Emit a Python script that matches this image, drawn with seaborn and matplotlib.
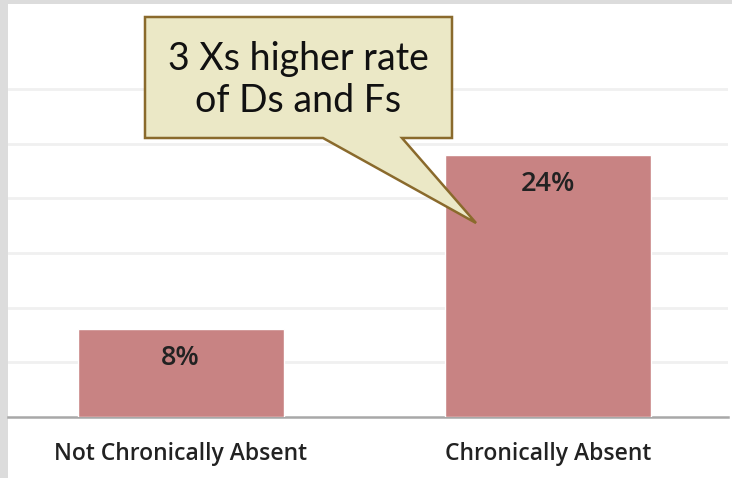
import matplotlib
matplotlib.use("Agg")
import matplotlib.pyplot as plt
from matplotlib.patches import Polygon, Rectangle
import seaborn as sns

# chart data
categories = ["Not Chronically Absent", "Chronically Absent"]
values = [8, 24]
value_labels = ["8%", "24%"]
callout_text = "3 Xs higher rate\nof Ds and Fs"

bar_color = "#c88383"
W, H = 732, 478

sns.set_style("white")
plt.rcParams["font.family"] = ["Open Sans", "DejaVu Sans"]

fig = plt.figure(figsize=(W / 100, H / 100), dpi=100, facecolor="#dcdcdc")
# white page area next to the grey border strips
fig.patches.append(Rectangle((8 / W, 0), 1, (H - 4) / H, transform=fig.transFigure,
                             facecolor="white", edgecolor="none", zorder=-5))

ax = fig.add_axes([8 / W, (H - 416.7) / H, (728 - 8) / W, (416.7 - 4) / H])
ax.set_facecolor("none")

sns.barplot(x=categories, y=values, color=bar_color, saturation=1, width=0.56, ax=ax, zorder=3)

ax.set_xlim(-0.47, 1.49)
ax.set_ylim(0, 37.8)
ax.set_yticks(range(5, 31, 5))
ax.set_axisbelow(True)
ax.yaxis.grid(True, color="#f0f0f0", linewidth=2)
ax.tick_params(axis="y", left=False, labelleft=False)
ax.tick_params(axis="x", bottom=False, labelsize=16.5, pad=15, colors="#222222")
for t in ax.get_xticklabels():
    t.set_fontweight("semibold")
ax.set_xlabel("")
ax.set_ylabel("")
for side in ["left", "right", "top"]:
    ax.spines[side].set_visible(False)
ax.spines["bottom"].set_color("#a8a8a8")
ax.spines["bottom"].set_linewidth(1.8)

# value labels inside the bars, a little below the top
for bar, lab in zip(ax.patches, value_labels):
    ax.annotate(lab, (bar.get_x() + bar.get_width() / 2, bar.get_height()),
                xytext=(0, -29), textcoords="offset pixels", fontweight="semibold",
                ha="center", va="center", fontsize=19.5, color="#222222", zorder=5)

# callout box with pointer (figure pixel coordinates, y from top)
pts = [(145, 17), (452, 17), (452, 138), (402, 138), (476, 223), (323, 138), (145, 138)]
callout = Polygon([(x / W, 1 - y / H) for x, y in pts], closed=True, transform=fig.transFigure,
                  facecolor="#ebe8c6", edgecolor="#8a6a2c", linewidth=1.8, zorder=10)
fig.patches.append(callout)
fig.text(298 / W, 1 - 80 / H, callout_text, ha="center", va="center", fontsize=27,
         family=["Lato", "DejaVu Sans"], color="#111111", linespacing=1.2, zorder=11)

fig.savefig("out.png", dpi=100, facecolor=fig.get_facecolor())
